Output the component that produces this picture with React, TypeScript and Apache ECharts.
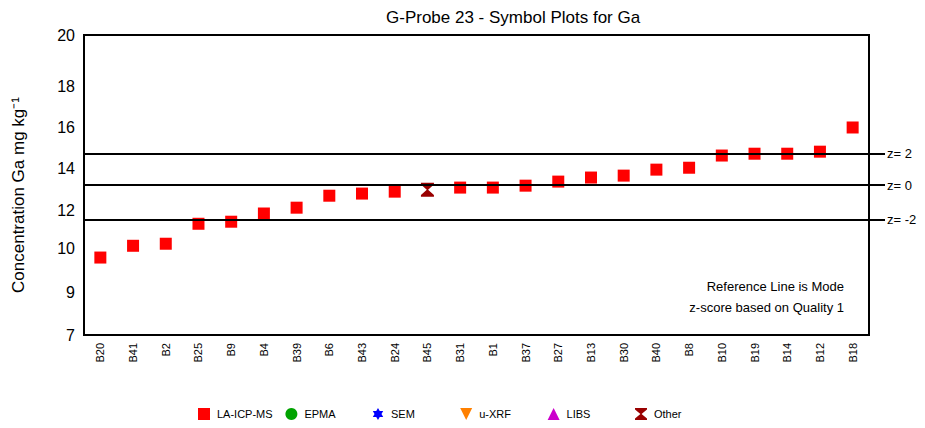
import React, { useEffect, useRef } from "react";
import * as echarts from "echarts";

const categories = ["B20", "B41", "B2", "B25", "B9", "B4", "B39", "B6", "B43", "B24", "B45", "B31", "B1", "B37", "B27", "B13", "B30", "B40", "B8", "B10", "B19", "B14", "B12", "B18"];
const laIcpMs: (number | null)[] = [9.79, 10.13, 10.24, 11.31, 11.42, 11.86, 12.15, 12.71, 12.81, 12.9, null, 13.09, 13.09, 13.18, 13.37, 13.56, 13.65, 13.93, 14.02, 14.62, 14.71, 14.71, 14.81, 16.0];
const otherMethod: (number | null)[] = [null, null, null, null, null, null, null, null, null, null, 12.99, null, null, null, null, null, null, null, null, null, null, null, null, null];
const zLabels = ["z= 2", "z= 0", "z= -2"];
const zValues = [14.71, 13.21, 11.54];
const yTicks = [7, 9, 10, 12, 14, 16, 18, 20];
const legendNames = ["LA-ICP-MS", "EPMA", "SEM", "u-XRF", "LIBS", "Other"];

// layout: where each y tick label sits along the axis (fraction of axis height)
const yTickPos = [0, 0.1411, 0.2893, 0.4137, 0.5562, 0.6917, 0.8285, 1];

const toAxis = (v: number) => {
  for (let i = 0; i < yTicks.length - 1; i++) {
    if (v >= yTicks[i] && v <= yTicks[i + 1]) {
      const t = (v - yTicks[i]) / (yTicks[i + 1] - yTicks[i]);
      return 100 * (yTickPos[i] + t * (yTickPos[i + 1] - yTickPos[i]));
    }
  }
  return v < yTicks[0] ? 0 : 100;
};

const FONT = "'Liberation Sans', Arial, Helvetica, sans-serif";
const STAR = "path://M10,0 L12.89,5 L18.66,5 L15.77,10 L18.66,15 L12.89,15 L10,20 L7.11,15 L1.34,15 L4.23,10 L1.34,5 L7.11,5 Z";
const DOWN_TRI = "path://M0,0 L12,0 L6,12 Z";
const HOURGLASS = "path://M0,0 L12,0 L12,1.5 L6.6,6 L12,10.5 L12,12 L0,12 L0,10.5 L5.4,6 L0,1.5 Z";

const symbols: Record<string, { symbol: string; color: string; size: number | number[] }> = {
  "LA-ICP-MS": { symbol: "rect", color: "#ff0000", size: 12 },
  EPMA: { symbol: "circle", color: "#00a300", size: 12 },
  SEM: { symbol: STAR, color: "#0000ff", size: 12 },
  "u-XRF": { symbol: DOWN_TRI, color: "#ff8000", size: 12 },
  LIBS: { symbol: "triangle", color: "#cc00cc", size: 12 },
  Other: { symbol: HOURGLASS, color: "#990000", size: [13, 14] },
};

export default function App() {
  const ref = useRef<HTMLDivElement>(null);
  useEffect(() => {
    document.body.style.margin = "0";
    if (!ref.current) return;
    const chart = echarts.init(ref.current, undefined, { renderer: "svg" });
    const tickAxisVals = yTicks.map((v) => toAxis(v));
    const dataFor = (name: string) => {
      if (name === "LA-ICP-MS") return laIcpMs.map((v) => (v == null ? "-" : toAxis(v)));
      if (name === "Other") return otherMethod.map((v) => (v == null ? "-" : toAxis(v)));
      return [];
    };
    const option: any = {
      animation: false,
      textStyle: { fontFamily: FONT },
      title: {
        text: "G-Probe 23 - Symbol Plots for Ga",
        left: 381,
        top: 4,
        textStyle: { fontSize: 17, fontWeight: "normal", color: "#000", fontFamily: FONT },
      },
      grid: [
        { left: 84, right: 56, top: 35, bottom: 93, show: true, borderColor: "#000", borderWidth: 2, containLabel: false },
        { left: 84, right: 40, top: 35, bottom: 93, show: false, containLabel: false },
      ],
      xAxis: [
        {
          type: "category",
          gridIndex: 0,
          data: categories,
          boundaryGap: true,
          axisLine: { show: true, lineStyle: { color: "#000", width: 2 } },
          axisTick: { show: false },
          splitLine: { show: false },
          axisLabel: { rotate: 90, fontSize: 11, color: "#000", margin: 8, interval: 0, fontFamily: FONT },
        },
        { type: "value", gridIndex: 1, min: 0, max: 1, show: false },
      ],
      yAxis: [
        {
          type: "value",
          gridIndex: 0,
          min: 0,
          max: 100,
          axisLine: { show: true, lineStyle: { color: "#000", width: 2 } },
          axisTick: { show: false },
          splitLine: { show: false },
          axisLabel: {
            customValues: tickAxisVals,
            fontSize: 16,
            color: "#000",
            margin: 9,
            fontFamily: FONT,
            formatter: (val: number) => {
              let best = 0;
              tickAxisVals.forEach((t, i) => {
                if (Math.abs(t - val) < Math.abs(tickAxisVals[best] - val)) best = i;
              });
              return String(yTicks[best]);
            },
          },
        },
        { type: "value", gridIndex: 1, min: 0, max: 100, show: false },
      ],
      legend: legendNames.map((n, i) => ({
        data: [n],
        left: 198 + i * 87.4,
        top: 408,
        padding: 0,
        itemWidth: 12,
        itemHeight: 12,
        selectedMode: false,
        textStyle: { fontSize: 11, color: "#000", fontFamily: FONT, padding: [0, 0, 0, 2] },
      })),
      graphic: [
        {
          type: "text",
          x: 18,
          y: 195,
          rotation: Math.PI / 2,
          style: {
            text: "Concentration Ga mg kg⁻¹",
            fontSize: 17,
            fill: "#000",
            fontFamily: FONT,
            textAlign: "center",
            textVerticalAlign: "middle",
          },
        },
        {
          type: "text",
          x: 844,
          y: 286,
          style: { text: "Reference Line is Mode", fontSize: 13, fill: "#000", fontFamily: FONT, textAlign: "right", textVerticalAlign: "middle" },
        },
        {
          type: "text",
          x: 844,
          y: 307,
          style: { text: "z-score based on Quality 1", fontSize: 13, fill: "#000", fontFamily: FONT, textAlign: "right", textVerticalAlign: "middle" },
        },
      ],
      series: [
        ...legendNames.map((n) => ({
          name: n,
          type: "scatter",
          xAxisIndex: 0,
          yAxisIndex: 0,
          symbol: symbols[n].symbol,
          symbolSize: symbols[n].size,
          itemStyle: { color: symbols[n].color, opacity: 1 },
          data: dataFor(n),
          z: 2,
        })),
        {
          name: "zlines",
          type: "line",
          xAxisIndex: 1,
          yAxisIndex: 1,
          data: [],
          z: 5,
          markLine: {
            silent: true,
            symbol: "none",
            animation: false,
            lineStyle: { color: "#000", width: 2, type: "solid" },
            label: {
              show: true,
              position: "end",
              distance: 2,
              fontSize: 13,
              color: "#000",
              fontFamily: FONT,
              formatter: (p: any) => zLabels[p.dataIndex],
            },
            data: zValues.map((v) => ({ yAxis: toAxis(v) })),
          },
        },
      ],
    };
    chart.setOption(option);
    return () => chart.dispose();
  }, []);
  return <div ref={ref} style={{ width: 925, height: 428 }} />;
}
